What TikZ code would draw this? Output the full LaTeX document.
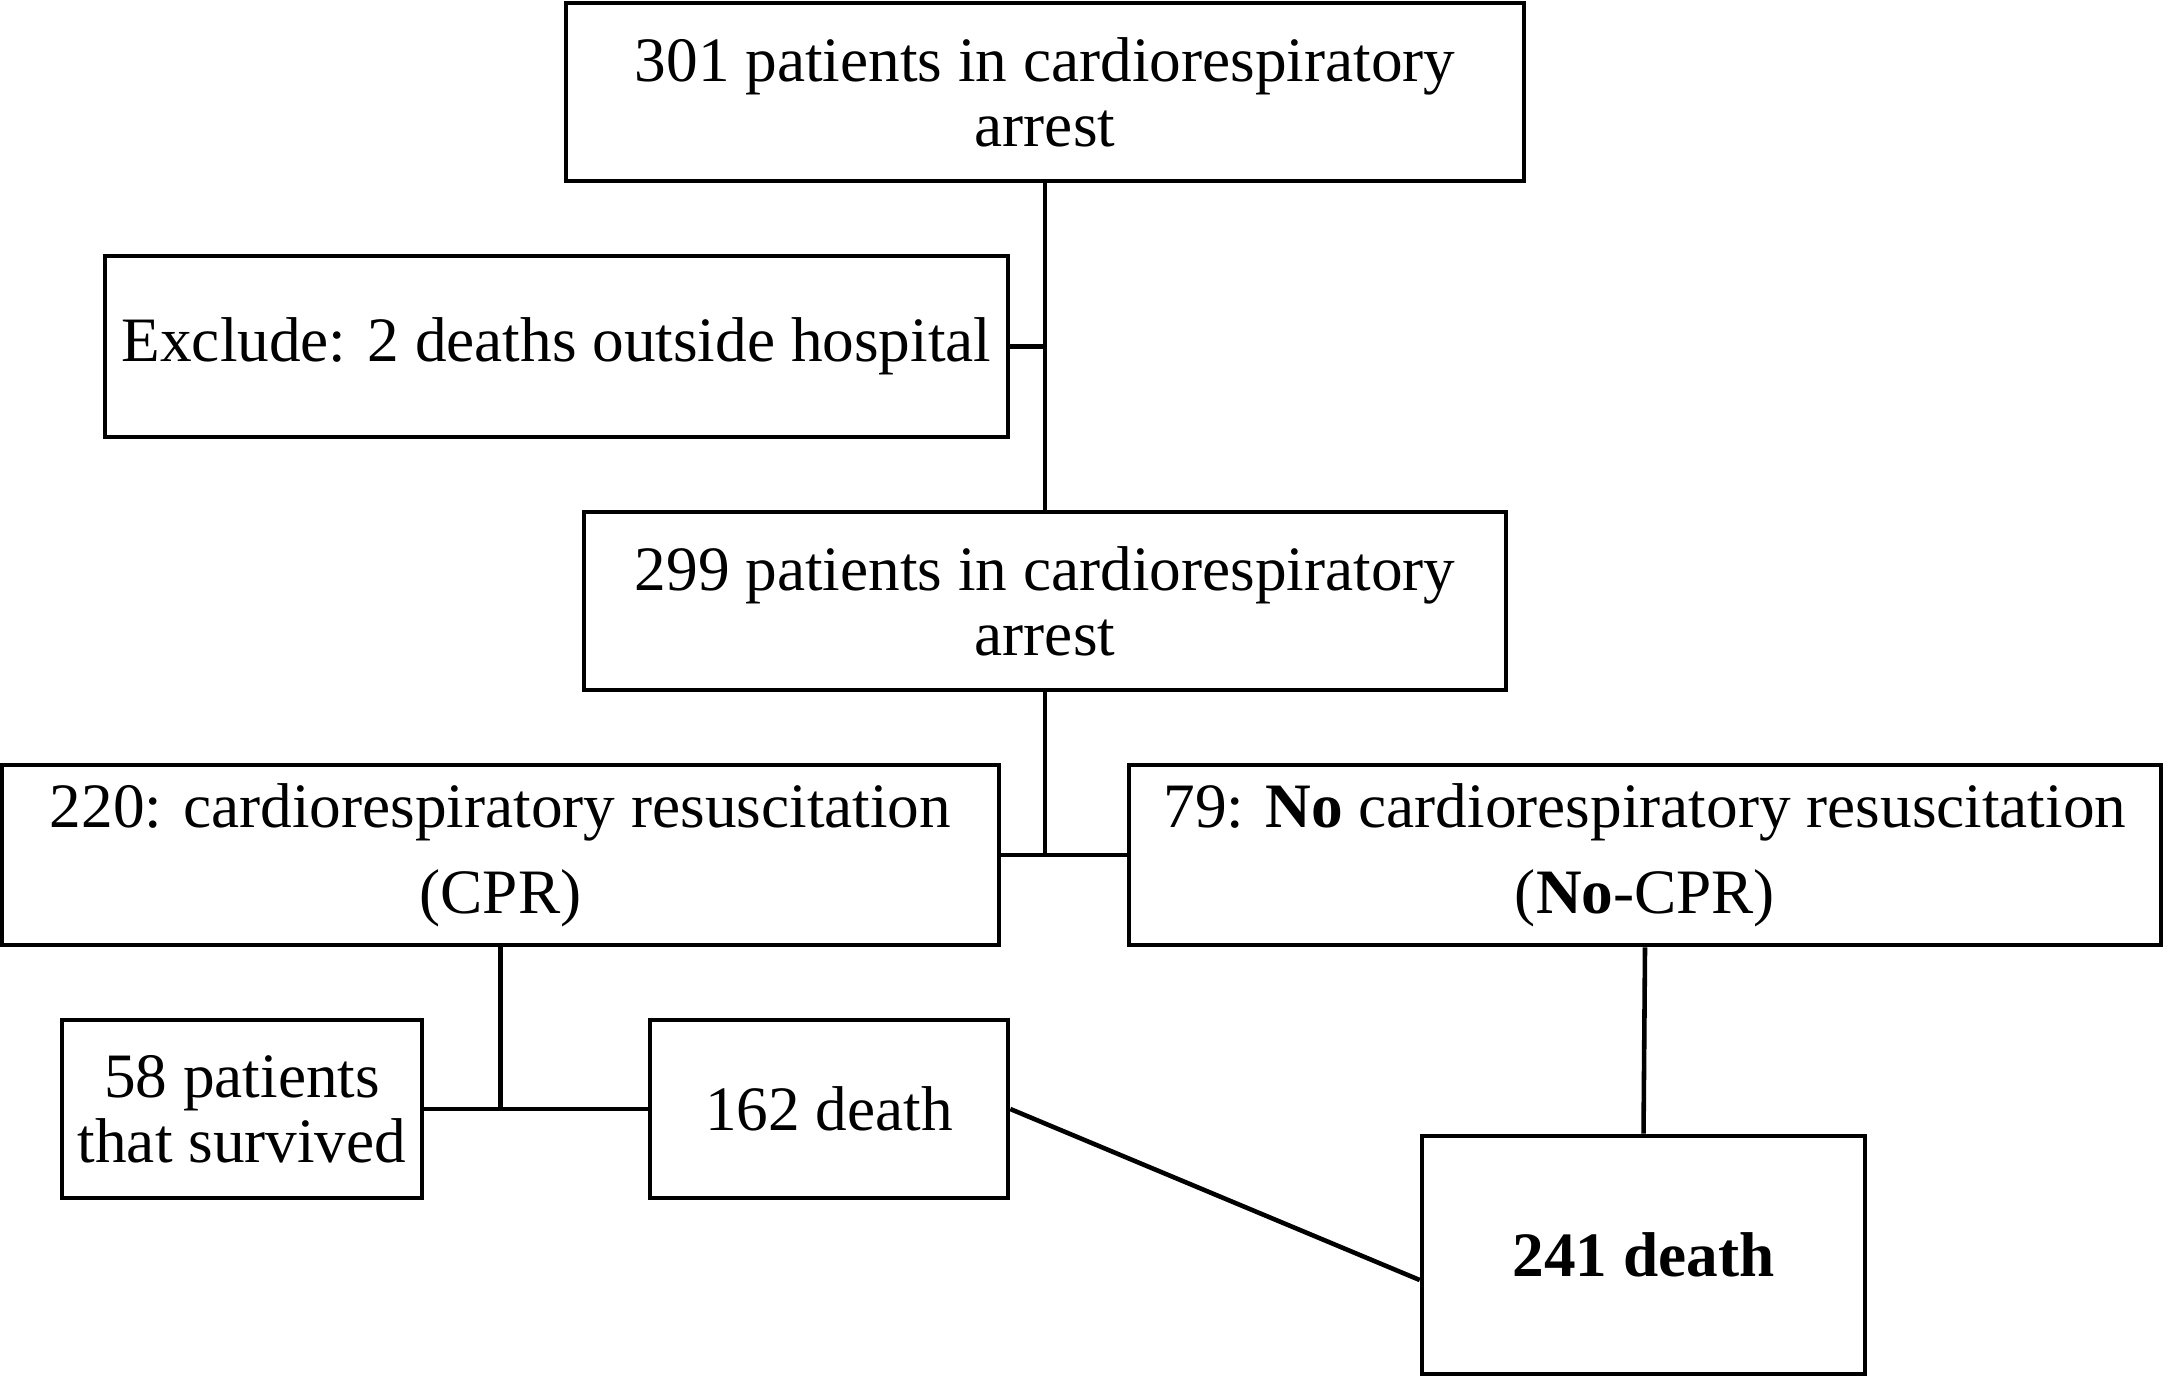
\documentclass[tikz,border=0pt]{standalone}
\usepackage{fontspec}
\setmainfont{Liberation Serif}
\begin{document}
\begin{tikzpicture}[line width=1.3pt,
  font=\fontsize{18}{18.5}\selectfont,
  flowbox/.style={draw,rectangle,align=center,inner sep=0pt}]
  \useasboundingbox (0,0) rectangle (21.69,13.76);
  \node[flowbox,minimum width=9.58cm,minimum height=1.78cm] (all) at (10.45,12.84)
    {301 patients in cardiorespiratory\\arrest};
  \node[flowbox,minimum width=9.03cm,minimum height=1.81cm] (excl) at (5.565,10.295)
    {Exclude: 2 deaths outside hospital};
  \node[flowbox,minimum width=9.22cm,minimum height=1.78cm] (incl) at (10.45,7.75)
    {299 patients in cardiorespiratory\\arrest};
  \node[flowbox,minimum width=9.97cm,minimum height=1.80cm] (cpr) at (5.005,5.21)
    {220: cardiorespiratory resuscitation\\[6pt](CPR)};
  \node[flowbox,minimum width=10.32cm,minimum height=1.80cm] (nocpr) at (16.45,5.21)
    {79: \textbf{No} cardiorespiratory resuscitation\\[6pt](\textbf{No}-CPR)};
  \node[flowbox,minimum width=3.60cm,minimum height=1.78cm] (alive) at (2.42,2.67)
    {58 patients\\that survived};
  \node[flowbox,minimum width=3.58cm,minimum height=1.78cm] (cprdeath) at (8.29,2.67)
    {162 death};
  \node[flowbox,minimum width=4.43cm,minimum height=2.38cm] (total) at (16.435,1.21)
    {\textbf{241 death}};
  % connectors
  \coordinate (split) at (incl.south |- cpr.east);
  \coordinate (fork) at (cpr.south |- alive.east);
  \coordinate (totalin) at ([yshift=-2.5mm]total.west);
  \draw (all.south) -- (incl.north);
  \draw (excl.east) -- (excl.east -| all.south);
  \draw (incl.south) -- (split);
  \draw (cpr.east) -- (nocpr.west);
  \draw (cpr.south) -- (fork);
  \draw (alive.east) -- (cprdeath.west);
  \draw (nocpr.south) -- (total.north);
  \draw (cprdeath.east) -- (totalin);
\end{tikzpicture}
\end{document}
